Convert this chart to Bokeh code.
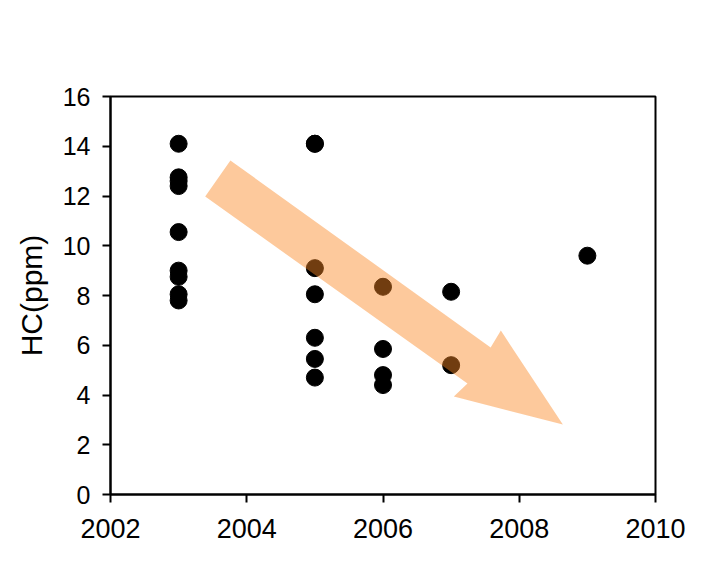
from bokeh.plotting import figure
from bokeh.models import ColumnDataSource, FixedTicker
from bokeh.embed import file_html
from bokeh.resources import INLINE

years = [2003]*9 + [2005]*7 + [2006]*4 + [2007]*2 + [2009]
hc = [14.1, 12.75, 12.6, 12.4, 10.55, 9.0, 8.75, 8.05, 7.8,
      14.1, 9.1, 8.05, 6.3, 5.45, 4.7, 14.1,
      8.35, 5.85, 4.8, 4.4,
      8.15, 5.2,
      9.6]

# trend arrow outline (data coordinates)
arrow_x = [2003.76, 2007.58, 2007.73, 2008.64, 2007.04, 2007.24, 2003.39]
arrow_y = [13.43, 5.91, 6.59, 2.81, 3.94, 4.46, 11.98]

x_ticks = [2002, 2004, 2006, 2008, 2010]
y_ticks = [0, 2, 4, 6, 8, 10, 12, 14, 16]

p = figure(width=705, height=571, output_backend="svg", toolbar_location=None,
           x_range=(2002, 2010), y_range=(0, 16),
           min_border_left=110, min_border_right=50,
           min_border_top=96, min_border_bottom=77)
p.grid.visible = False
p.outline_line_color = "black"
p.outline_line_width = 2
p.background_fill_color = "white"
p.border_fill_color = "white"

src = ColumnDataSource(dict(x=years, y=hc))
p.scatter("x", "y", source=src, size=17, color="black")
p.patch(arrow_x, arrow_y, fill_color=(250, 135, 35), fill_alpha=0.45, line_color=None)

for ax in (p.xaxis[0], p.yaxis[0]):
    ax.axis_line_color = "black"
    ax.axis_line_width = 2
    ax.major_tick_line_color = "black"
    ax.major_tick_line_width = 2
    ax.major_tick_out = 8
    ax.major_tick_in = 0
    ax.minor_tick_line_color = None
    ax.major_label_text_font = "Liberation Sans"
    ax.major_label_text_color = "black"

p.xaxis.major_label_text_font_size = "27px"
p.yaxis.major_label_text_font_size = "25px"
p.xaxis.major_label_standoff = 16
p.yaxis.major_label_standoff = 12
p.xaxis.ticker = FixedTicker(ticks=x_ticks)
p.yaxis.ticker = FixedTicker(ticks=y_ticks)
p.yaxis.axis_label = "HC(ppm)"
p.yaxis.axis_label_text_font = "Liberation Sans"
p.yaxis.axis_label_text_font_size = "30px"
p.yaxis.axis_label_text_font_style = "normal"
p.yaxis.axis_label_text_color = "black"
p.yaxis.axis_label_standoff = 12

open("out.html", "w").write(file_html(p, INLINE))
